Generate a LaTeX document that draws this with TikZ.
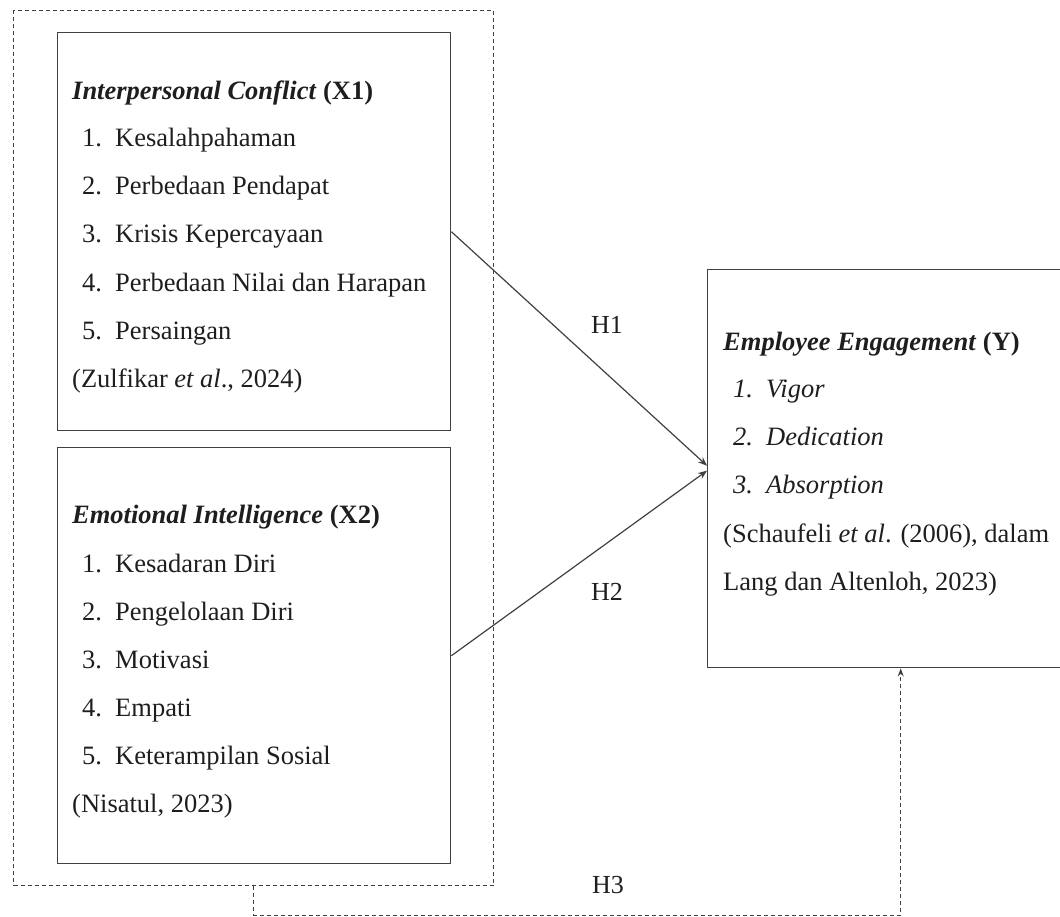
\documentclass[tikz,border=0pt]{standalone}
\usepackage{fontspec}
\setmainfont{Liberation Serif}
\usetikzlibrary{arrows.meta}
\definecolor{linec}{HTML}{404040}
\definecolor{textc}{HTML}{1E1E1E}
\newcommand{\itm}[2]{\makebox[33pt][l]{#1}#2}
\begin{document}
\begin{tikzpicture}[x=1pt,y=-1pt,
  box/.style={draw=linec, line width=1.4pt, inner sep=0pt, anchor=north west, fill=none},
  grpbox/.style={draw=linec, line width=1.1pt, dash pattern=on 4pt off 3pt, inner sep=0pt, anchor=north west},
  txt/.style={anchor=base west, inner sep=0pt, text=textc, font=\fontsize{26.5}{30}\selectfont},
  lbl/.style={inner sep=0pt, text=textc, font=\fontsize{26}{30}\selectfont},
  conn/.style={draw=linec, line width=1.2pt, -{Stealth[length=9pt,width=7pt]}},
  dconn/.style={draw=linec, line width=1.1pt, dash pattern=on 4pt off 3pt, -{Stealth[length=8pt,width=6pt]}}]
\clip (0,0) rectangle (1060,917);
\useasboundingbox (0,0) rectangle (1060,917);
% boxes
\node[grpbox, minimum width=480pt, minimum height=875pt] (grp) at (13,10) {};
\node[box, minimum width=393pt, minimum height=398pt] (b1) at (57,32) {};
\node[box, minimum width=393pt, minimum height=416pt] (b2) at (57,447) {};
\node[box, minimum width=386pt, minimum height=398pt] (y) at (707,269) {};
% box 1 text
\node[txt] (t1) at (72,100) {\textbf{\textit{Interpersonal Conflict}} \textbf{(X1)}};
\node[txt] (t1a) at (82,147) {\itm{1.}{Kesalahpahaman}};
\node[txt] (t1b) at (82,195) {\itm{2.}{Perbedaan Pendapat}};
\node[txt] (t1c) at (82,243) {\itm{3.}{Krisis Kepercayaan}};
\node[txt] (t1d) at (82,291) {\itm{4.}{Perbedaan Nilai dan Harapan}};
\node[txt] (t1e) at (82,339) {\itm{5.}{Persaingan}};
\node[txt] (t1f) at (72,387) {(Zulfikar \textit{et al}., 2024)};
% box 2 text
\node[txt] (t2) at (72,523) {\textbf{\textit{Emotional Intelligence}} \textbf{(X2)}};
\node[txt] (t2a) at (82,572) {\itm{1.}{Kesadaran Diri}};
\node[txt] (t2b) at (82,620) {\itm{2.}{Pengelolaan Diri}};
\node[txt] (t2c) at (82,668) {\itm{3.}{Motivasi}};
\node[txt] (t2d) at (82,716) {\itm{4.}{Empati}};
\node[txt] (t2e) at (82,764) {\itm{5.}{Keterampilan Sosial}};
\node[txt] (t2f) at (72,812) {(Nisatul, 2023)};
% right box text
\node[txt] (ty) at (723,350) {\textbf{\textit{Employee Engagement}} \textbf{(Y)}};
\node[txt] (tya) at (733,397) {\itshape\itm{1.}{Vigor}};
\node[txt] (tyb) at (733,445) {\itshape\itm{2.}{Dedication}};
\node[txt] (tyc) at (733,493) {\itshape\itm{3.}{Absorption}};
\node[txt] (tyd) at (723,542) {(Schaufeli \textit{et al}. (2006), dalam};
\node[txt] (tye) at (723,590) {Lang dan Altenloh, 2023)};
% connectors
\draw[conn] (b1.east) -- ([yshift=3pt]y.west);
\draw[conn] (b2.east) -- ([yshift=-2pt]y.west);
\draw[dconn] (grp.south) -- ++(0,29) -| (y.south);
% labels
\node[lbl] (h1) at (607,325) {H1};
\node[lbl] (h2) at (607,592) {H2};
\node[lbl] (h3) at (608,885) {H3};
\end{tikzpicture}
\end{document}
